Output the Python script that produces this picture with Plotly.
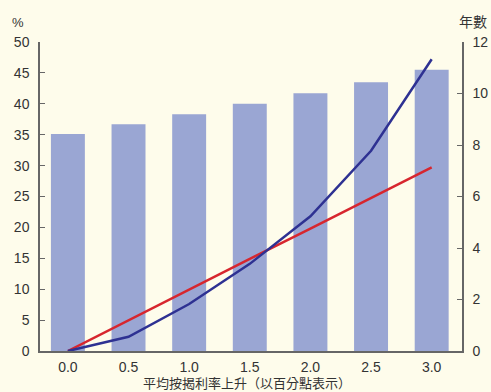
import plotly.graph_objects as go

rate_rise = [0.0, 0.5, 1.0, 1.5, 2.0, 2.5, 3.0]
tick_labels = ["0.0", "0.5", "1.0", "1.5", "2.0", "2.5", "3.0"]
bar_pct = [35.1, 36.7, 38.3, 40.0, 41.7, 43.5, 45.5]
red_pct = [0.0, 5.0, 10.0, 14.9, 19.8, 24.8, 29.7]
blue_pct = [0.0, 2.3, 7.6, 14.1, 21.8, 32.4, 47.2]

bg = "#FEFCEB"
axis_col = "#666666"
font_main = "Liberation Sans, Arial, sans-serif"
font_cjk = "Noto Sans CJK TC, Noto Sans CJK SC, sans-serif"

W, H = 491, 392
l, r, t, b = 40, 29, 42, 41
pw, ph = W - l - r, H - t - b


def px_to_paper(px, py):
    return (px - l) / pw, (H - b - py) / ph


fig = go.Figure()
fig.add_trace(go.Bar(x=rate_rise, y=bar_pct, width=0.28, marker=dict(color="#9AA6D3", line=dict(width=0)), showlegend=False))
fig.add_trace(go.Scatter(x=rate_rise, y=red_pct, mode="lines", line=dict(color="#D7262E", width=2.5), showlegend=False))
fig.add_trace(go.Scatter(x=rate_rise, y=blue_pct, mode="lines", line=dict(color="#2E3192", width=2.5), showlegend=False))
fig.add_trace(go.Scatter(x=[rate_rise[0]], y=[0], yaxis="y2", mode="markers", marker=dict(opacity=0), showlegend=False, hoverinfo="skip"))

anns = []
for text, px, py, fam, sz in [("%", 18, 22, font_main, 13), ("年數", 473, 21, font_cjk, 14),
                              ("平均按揭利率上升（以百分點表示）", 247, 382.5, font_cjk, 13)]:
    x, y = px_to_paper(px, py)
    anns.append(dict(text=text, x=x, y=y, xref="paper", yref="paper", xanchor="center", yanchor="middle",
                     showarrow=False, borderpad=0, font=dict(family=fam, size=sz, color="#333333")))

fig.update_layout(
    width=W, height=H,
    margin=dict(l=l, r=r, t=t, b=b, autoexpand=False),
    paper_bgcolor=bg, plot_bgcolor=bg,
    font=dict(family=font_main, size=14, color="#333333"),
    xaxis=dict(range=[-0.23, 3.25], tickvals=rate_rise, ticktext=tick_labels, showgrid=False, zeroline=False,
               showline=True, linecolor=axis_col, linewidth=1.5, ticks="", ticklabelstandoff=2, automargin=False),
    yaxis=dict(range=[0, 50], dtick=5, showgrid=False, zeroline=False, showline=True, linecolor=axis_col, linewidth=1.5,
               ticks="inside", ticklen=5, tickcolor=axis_col, ticklabelstandoff=6, automargin=False),
    yaxis2=dict(range=[0, 12], dtick=2, overlaying="y", side="right", showgrid=False, zeroline=False, showline=True,
                linecolor=axis_col, linewidth=1.5, ticks="inside", ticklen=5, tickcolor=axis_col, ticklabelstandoff=6,
                automargin=False),
    annotations=anns,
)

fig.write_html("out.html", config={"displayModeBar": False},
               post_script="document.body.style.margin='0';document.body.style.background='%s';" % bg)
